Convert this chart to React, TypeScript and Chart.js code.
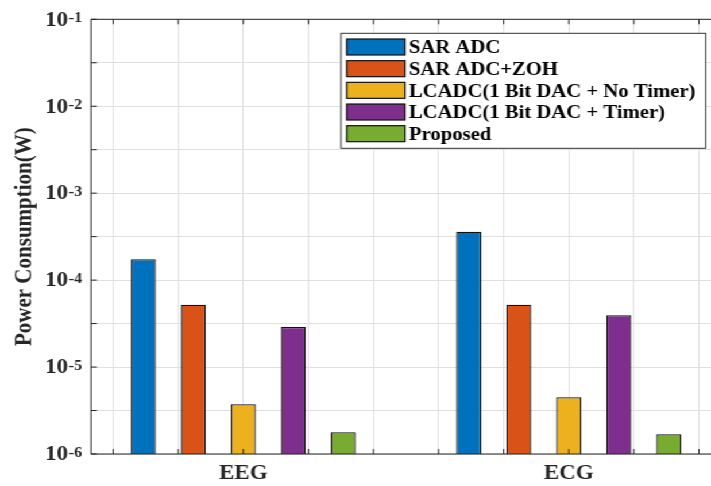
import React, { useEffect, useRef } from 'react';
import { Chart, registerables } from 'chart.js';

Chart.register(...registerables);

// ---------- data ----------
const categories = ['EEG', 'ECG'];
const categoryPositions = [1, 2];
const seriesNames = [
  'SAR ADC',
  'SAR ADC+ZOH',
  'LCADC(1 Bit DAC + No Timer)',
  'LCADC(1 Bit DAC + Timer)',
  'Proposed',
];
const sarAdc = [1.74e-4, 3.61e-4];
const sarAdcZoh = [5.22e-5, 5.22e-5];
const lcadcNoTimer = [3.73e-6, 4.49e-6];
const lcadcTimer = [2.89e-5, 3.94e-5];
const proposed = [1.78e-6, 1.69e-6];
const seriesValues = [sarAdc, sarAdcZoh, lcadcNoTimer, lcadcTimer, proposed];
const seriesColors = ['#0072BD', '#D95319', '#EDB120', '#7E2F8E', '#77AC30'];

const yTickExponents = [-6, -5.5, -5, -4.5, -4, -3.5, -3, -2.5, -2, -1.5, -1];
const yLabelExponents = [-6, -5, -4, -3, -2, -1];
const xGridTicks = [0.6, 0.8, 1.0, 1.2, 1.4, 1.6, 1.8, 2.0, 2.2, 2.4];
const yTitle = 'Power Consumption(W)';

// ---------- layout / style ----------
const W = 619;
const H = 486;
const S = 711 / W; // horizontal stretch of the reference figure
const X_MIN = 0.532;
const X_MAX = 2.437;
const FONT = "'Liberation Serif', 'Times New Roman', serif";
const AXIS_COLOR = '#262626';
const GRID_COLOR = '#dfdfdf';

const framePlugin = {
  id: 'matlabFrame',
  afterDraw(chart: any) {
    const { ctx, chartArea } = chart;
    const { left, right, top, bottom } = chartArea;
    const y = chart.scales.y;
    const x2 = chart.scales.x2;
    ctx.save();
    // frame + inward ticks
    ctx.strokeStyle = AXIS_COLOR;
    ctx.lineWidth = 1;
    ctx.beginPath();
    ctx.moveTo(left, top);
    ctx.lineTo(right, top);
    ctx.moveTo(left, top);
    ctx.lineTo(left, bottom);
    ctx.moveTo(left, bottom);
    ctx.lineTo(right, bottom);
    y.ticks.forEach((t: any) => {
      const py = y.getPixelForValue(t.value);
      ctx.moveTo(left, py);
      ctx.lineTo(left + 5.2, py);
    });
    x2.ticks.forEach((t: any) => {
      const px = x2.getPixelForValue(t.value);
      ctx.moveTo(px, top);
      ctx.lineTo(px, top + 5);
      ctx.moveTo(px, bottom);
      ctx.lineTo(px, bottom - 5);
    });
    ctx.stroke();

    // y tick labels 10^n
    ctx.fillStyle = AXIS_COLOR;
    ctx.textAlign = 'right';
    ctx.textBaseline = 'alphabetic';
    const supRight = 82 / S;
    yLabelExponents.forEach((e) => {
      const py = y.getPixelForValue(Math.pow(10, e));
      const sup = String(e);
      ctx.font = `bold 14px ${FONT}`;
      const supW = ctx.measureText(sup).width;
      ctx.fillText(sup, supRight, py + 2.8);
      ctx.font = `bold 20px ${FONT}`;
      ctx.fillText('10', supRight - supW - 0.5, py + 6.3);
    });

    // legend
    const L = { x0: 341, x1: 705.7, y0: 33.3, y1: 148.3, swX0: 346.7, swX1: 405, swTop: 39, swH: 16, rowH: 21.67, textX: 409, baseOff: 14.3 };
    ctx.fillStyle = '#ffffff';
    ctx.fillRect(L.x0 / S, L.y0, (L.x1 - L.x0) / S, L.y1 - L.y0);
    ctx.strokeStyle = '#333333';
    ctx.strokeRect(L.x0 / S, L.y0, (L.x1 - L.x0) / S, L.y1 - L.y0);
    ctx.textAlign = 'left';
    ctx.font = `bold 18px ${FONT}`;
    chart.data.datasets.forEach((ds: any, i: number) => {
      const t = L.swTop + i * L.rowH;
      ctx.fillStyle = ds.backgroundColor;
      ctx.fillRect(L.swX0 / S, t, (L.swX1 - L.swX0) / S, L.swH);
      ctx.strokeStyle = '#111111';
      ctx.lineWidth = 1.2;
      ctx.strokeRect(L.swX0 / S, t, (L.swX1 - L.swX0) / S, L.swH);
      ctx.fillStyle = '#000000';
      ctx.fillText(ds.label, L.textX / S, t + L.baseOff);
    });
    ctx.restore();
  },
};

export default function App() {
  const ref = useRef<HTMLCanvasElement>(null);
  useEffect(() => {
    const chart = new Chart(ref.current as HTMLCanvasElement, {
      type: 'bar',
      data: {
        datasets: seriesValues.map((vals, i) => ({
          label: seriesNames[i],
          data: categoryPositions.map((x, j) => ({ x, y: vals[j] })),
          backgroundColor: seriesColors[i],
          borderColor: '#111111',
          borderWidth: 1.3,
          categoryPercentage: 0.768,
          barPercentage: 0.5,
          xAxisID: 'x',
          yAxisID: 'y',
        })),
      } as any,
      options: {
        animation: false,
        responsive: false,
        layout: { padding: { top: 19.3, left: 0, right: 0, bottom: 0 } },
        plugins: { legend: { display: false }, tooltip: { enabled: false } },
        scales: {
          x: {
            type: 'linear',
            position: 'bottom',
            min: X_MIN,
            max: X_MAX,
            offset: false,
            grid: { display: false, drawTicks: false, offset: false },
            border: { display: false },
            afterBuildTicks: (s: any) => {
              s.ticks = categoryPositions.map((v) => ({ value: v }));
            },
            afterFit: (s: any) => {
              s.height = 32;
            },
            ticks: {
              padding: 8,
              autoSkip: false,
              maxRotation: 0,
              color: AXIS_COLOR,
              font: { family: FONT, size: 20, weight: 'bold' },
              callback: (v: any) => {
                const i = categoryPositions.indexOf(Number(v));
                return i >= 0 ? categories[i] : '';
              },
            },
          },
          x2: {
            type: 'linear',
            position: 'top',
            min: X_MIN,
            max: X_MAX,
            offset: false,
            grid: { color: GRID_COLOR, drawTicks: false, offset: false },
            border: { display: false },
            ticks: { display: false },
            afterBuildTicks: (s: any) => {
              s.ticks = xGridTicks.map((v) => ({ value: v }));
            },
          },
          y: {
            type: 'logarithmic',
            position: 'left',
            min: 1e-6,
            max: 1e-1,
            grid: { color: GRID_COLOR, drawTicks: false },
            border: { display: false },
            ticks: { display: false },
            afterBuildTicks: (s: any) => {
              s.ticks = yTickExponents.map((e) => ({ value: Math.pow(10, e) }));
            },
            afterFit: (s: any) => {
              s.width = 91 / S;
            },
            title: {
              display: true,
              text: yTitle,
              color: AXIS_COLOR,
              font: { family: FONT, size: 21, weight: 'bold' },
              padding: { top: 8.7, bottom: 0 },
            },
          },
        },
      } as any,
      plugins: [framePlugin],
    });
    return () => chart.destroy();
  }, []);
  return (
    <div
      style={{
        position: 'absolute',
        left: 0,
        top: 0,
        width: W,
        height: H,
        background: '#ffffff',
        transform: `scaleX(${S})`,
        transformOrigin: '0 0',
      }}
    >
      <canvas ref={ref} width={W} height={H} />
    </div>
  );
}
